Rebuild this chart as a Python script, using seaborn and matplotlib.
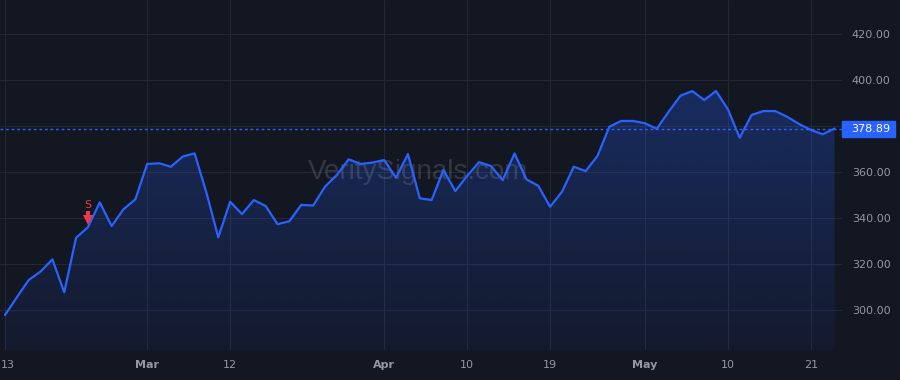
"""Price chart with a dark theme: area under the close line, last price tag."""

import numpy as np
import matplotlib
matplotlib.use("Agg")
import matplotlib.pyplot as plt
from matplotlib.patches import Rectangle
from matplotlib.transforms import blended_transform_factory
import seaborn as sns

# trading-day closes, Feb 13 -> May 23
closes = [
    297.8, 305.5, 313.0, 316.7, 322.0, 307.7, 331.4, 336.0, 346.8, 336.5,
    343.8, 348.1, 363.5, 363.8, 362.3, 366.7, 368.1, 351.0, 331.6, 347.1,
    341.7, 347.8, 345.2, 337.3, 338.6, 345.7, 345.4, 353.6, 358.7, 365.5,
    363.5, 364.1, 365.2, 357.5, 367.8, 348.6, 347.8, 360.9, 351.7, 358.3,
    364.3, 362.6, 356.5, 368.1, 356.8, 354.0, 344.9, 351.4, 362.3, 360.4,
    367.0, 379.7, 382.2, 382.2, 381.2, 378.8, 386.2, 393.2, 395.2, 391.3,
    395.2, 387.3, 374.9, 384.8, 386.5, 386.5, 384.0, 380.9, 378.3, 376.4,
    378.89,
]
last_price = 378.89
tick_pos = [0, 12, 19, 32, 39, 46, 54, 61, 68]
tick_labels = ["13", "Mar", "12", "Apr", "10", "19", "May", "10", "21"]
bold_labels = ["Mar", "Apr", "May"]
price_ticks = [300, 320, 340, 360, 380, 400, 420]
signal_day = 7
signal_label = "S"

BG = "#131722"
GRID = "#242834"
TEXT = "#9598a1"
BLUE = "#2962ff"
RED = "#f23645"

sns.set_theme(style="dark")
plt.rcParams["font.family"] = ["DejaVu Sans"]

x = np.arange(len(closes))
y = np.array(closes)

fig = plt.figure(figsize=(9, 3.8), dpi=100, facecolor=BG)
ax = fig.add_axes([0, 1 - 350 / 380, 842 / 900, 350 / 380])
ax.set_facecolor(BG)
ymin, ymax = 282.6, 434.8
ax.set_xlim(-0.42, 70.63)
ax.set_ylim(ymin, ymax)

# gradient fill under the line
fill = ax.fill_between(x, y, ymin, color="none", lw=0)
grad = np.zeros((256, 1, 4))
grad[:, 0, :3] = matplotlib.colors.to_rgb(BLUE)
grad[:, 0, 3] = np.linspace(0.28, 0.05, 256)
img = ax.imshow(grad, aspect="auto", extent=[x[0], x[-1], ymin, y.max()],
                origin="upper", zorder=1)
img.set_clip_path(fill.get_paths()[0], transform=ax.transData)

ax.text(0.496, 360, "VeritySignals.com",
        transform=blended_transform_factory(ax.transAxes, ax.transData),
        ha="center", va="center", fontsize=20, color="#9598a1", alpha=0.25,
        family=["Liberation Sans", "DejaVu Sans"], zorder=2)

sns.lineplot(x=x, y=y, ax=ax, color=BLUE, lw=1.6, zorder=3)
ax.axhline(last_price, color=BLUE, lw=1.0, ls=(0, (2, 2)), zorder=2.5)

# sell marker: short shaft + down triangle
sv = closes[signal_day]
ax.plot([signal_day, signal_day], [sv + 7.0, sv + 4.3], color=RED, lw=3.0,
        solid_capstyle="butt", zorder=4)
ax.plot([signal_day], [sv + 3.2], marker="v", ms=6.5, color=RED, mew=0, zorder=4)
ax.text(signal_day, sv + 9.8, signal_label, color=RED, fontsize=8,
        ha="center", va="center", zorder=4)

# grid and ticks; first date label sits flush with the left edge
ax.set_xticks(tick_pos)
ax.set_xticklabels([""] + tick_labels[1:])
for lab in ax.get_xticklabels():
    if lab.get_text() in bold_labels:
        lab.set_fontweight("bold")
fig.text(0.5 / 900, 1 - 364.5 / 380, tick_labels[0], ha="left", va="center",
         fontsize=8, color=TEXT)
ax.yaxis.tick_right()
ax.set_yticks(price_ticks)
ax.set_yticklabels([f"{v:.2f}" for v in price_ticks])
ax.tick_params(axis="x", length=0, pad=7, labelsize=8, labelcolor=TEXT)
ax.tick_params(axis="y", length=0, pad=7, labelsize=8, labelcolor=TEXT)
ax.grid(True, color=GRID, lw=0.8)
ax.set_xlabel("")
ax.set_ylabel("")
for s in ax.spines.values():
    s.set_visible(False)

# last price tag
trans = blended_transform_factory(fig.transFigure, ax.transData)
ax.add_patch(Rectangle((842 / 900, last_price - 3.45), 53 / 900, 6.9,
                       transform=trans, color=BLUE, clip_on=False, zorder=5))
ax.text(851.5 / 900, last_price, f"{last_price:.2f}", transform=trans,
        ha="left", va="center", color="white", fontsize=8, zorder=6)

fig.savefig("out.png", dpi=100, facecolor=BG)
